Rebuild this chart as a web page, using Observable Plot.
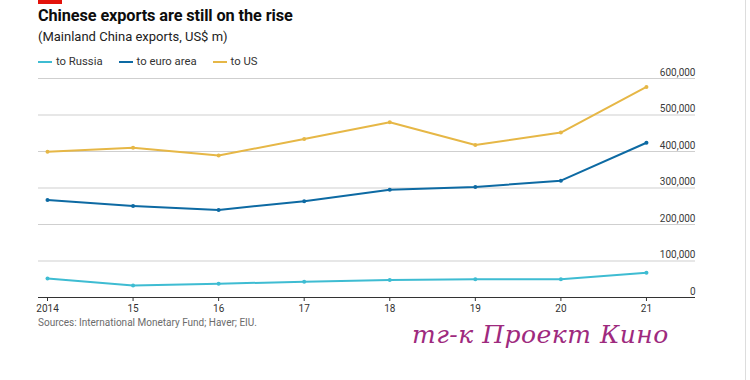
<!DOCTYPE html>
<html><head><meta charset="utf-8">
<script src="https://cdn.jsdelivr.net/npm/d3@7"></script>
<script src="https://cdn.jsdelivr.net/npm/@observablehq/plot@0.6"></script>
<style>
body{margin:0;background:#fff;font-family:Roboto,"Open Sans",sans-serif;width:750px;height:380px;overflow:hidden;position:relative}
#bar{position:absolute;left:38px;top:0;width:24px;height:4px;background:#e3120b}
#title{position:absolute;left:38px;top:6px;font-weight:700;font-size:16.3px;color:#0d0d0d;letter-spacing:-0.1px}
#sub{position:absolute;left:38px;top:29px;font-size:13px;color:#222}
#legend{position:absolute;left:38px;top:55px;font-size:11.3px;color:#333;display:flex}
.li{display:flex;align-items:center;margin-right:16px}
.sw{width:14px;height:2px;margin-right:4px}
#src{position:absolute;left:38px;top:317px;font-size:10px;color:#6b6b6b}
#wm{position:absolute;left:412px;top:320px;font-size:25px;color:#9e2a7e;font-style:italic;font-family:"DejaVu Serif",serif;letter-spacing:0.5px}
#edge{position:absolute;left:745px;top:0;width:1px;height:380px;background:#ddd}
#chart{position:absolute;left:0;top:52px}
</style></head><body>
<div id="bar"></div>
<div id="title">Chinese exports are still on the rise</div>
<div id="sub">(Mainland China exports, US$ m)</div>
<div id="legend"></div>
<div id="chart"></div>
<div id="src">Sources: International Monetary Fund; Haver; EIU.</div>
<div id="wm">тг-к Проект Кино</div>
<div id="edge"></div>
<script>
const years = [2014, 2015, 2016, 2017, 2018, 2019, 2020, 2021];
const toRussia = [52000, 33000, 38000, 43000, 48000, 50000, 50000, 68000];
const toEuroArea = [267000, 251000, 240000, 264000, 295000, 303000, 320000, 424000];
const toUS = [399000, 410000, 389000, 434000, 480000, 418000, 452000, 577000];
const seriesNames = ["to Russia", "to euro area", "to US"];
const seriesColors = ["#3ebcd2", "#0d6aa3", "#e6b746"];
const yTicks = [0, 100000, 200000, 300000, 400000, 500000, 600000];

const legend = document.getElementById("legend");
seriesNames.forEach((n, i) => {
  const d = document.createElement("div"); d.className = "li";
  d.innerHTML = `<span class="sw" style="background:${seriesColors[i]}"></span>${n}`;
  legend.appendChild(d);
});

const vals = [toRussia, toEuroArea, toUS];
const data = [];
vals.forEach((arr, s) => arr.forEach((v, i) => data.push({year: years[i], value: v, series: seriesNames[s]})));

const xMax = 2021 + 49/85.5;
const chart = Plot.plot({
  width: 750,
  height: 265,
  marginTop: 26,
  marginBottom: 20,
  marginLeft: 38,
  marginRight: 55,
  style: {fontFamily: "Roboto, sans-serif", fontSize: "10px", color: "#333", background: "transparent"},
  x: {domain: [2014 - 9/85.5, xMax], axis: null},
  y: {domain: [0, 600000], axis: null},
  color: {domain: seriesNames, range: seriesColors},
  marks: [
    Plot.ruleY(yTicks.filter(d => d > 0), {stroke: "#cfcfcf", strokeWidth: 1}),
    Plot.text(yTicks, {x: () => xMax, y: d => d, text: d => d3.format(",")(d), textAnchor: "end", dy: -6, fill: "#3a3a3a", fontSize: 10}),
    Plot.axisX({ticks: years, tickFormat: d => d === 2014 ? "2014" : String(d).slice(2), tickSize: 4, tickPadding: 3, stroke: "#333", fill: "#333", fontSize: 10, label: null}),
    Plot.ruleY([0], {stroke: "#333", strokeWidth: 1}),
    Plot.line(data, {x: "year", y: "value", z: "series", stroke: "series", strokeWidth: 2}),
    Plot.dot(data, {x: "year", y: "value", fill: "series", r: 2})
  ]
});
document.getElementById("chart").appendChild(chart);
</script>
</body></html>
